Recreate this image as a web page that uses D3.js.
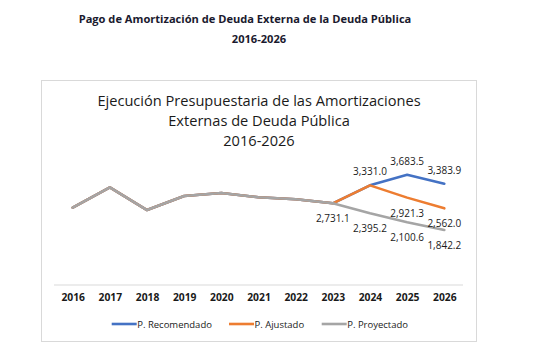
<!DOCTYPE html>
<html>
<head>
<meta charset="utf-8">
<script src="https://cdn.jsdelivr.net/npm/d3@7"></script>
<style>
  body { margin: 0; background: #fff; }
  text { font-family: "Open Sans", "Noto Sans", sans-serif; }
</style>
</head>
<body>
<div id="chart"></div>
<script>
// years on the x axis
const years = ["2016", "2017", "2018", "2019", "2020", "2021", "2022", "2023", "2024", "2025", "2026"];

// historical execution, shared by all three series up to 2023
const historico = [2584, 3266, 2507, 2975, 3076, 2932, 2865, 2731.1];

// projections 2024-2026
const recomendado = historico.concat([3331.0, 3683.5, 3383.9]);
const ajustado = historico.concat([3331.0, 2921.3, 2562.0]);
const proyectado = historico.concat([2395.2, 2100.6, 1842.2]);

const seriesNames = ["P. Recomendado", "P. Ajustado", "P. Proyectado"];
const seriesColors = ["#4472C4", "#ED7D31", "#A5A5A5"];

// which points carry a data label, and where it goes (above / below)
const labelIdx = [8, 9, 10];
const labelPos = [["above", "above", "above"], ["above", "below", "below"], ["below", "below", "below"]];

const allSeries = [recomendado, ajustado, proyectado];

const W = 559, H = 362;
const svg = d3.select("#chart").append("svg")
  .attr("width", W)
  .attr("height", H);

// outer heading
svg.append("text")
  .attr("x", 245).attr("y", 23)
  .attr("text-anchor", "middle")
  .attr("font-size", 11.1).attr("font-weight", "bold")
  .attr("fill", "#1a1a2e")
  .text("Pago de Amortización de Deuda Externa de la Deuda Pública");
svg.append("text")
  .attr("x", 259).attr("y", 43)
  .attr("text-anchor", "middle")
  .attr("font-size", 11.1).attr("font-weight", "bold")
  .attr("fill", "#1a1a2e")
  .text("2016-2026");

// chart frame
svg.append("rect")
  .attr("x", 41.5).attr("y", 80.5)
  .attr("width", 435).attr("height", 261)
  .attr("fill", "none")
  .attr("stroke", "#d9d9d9");

// chart title
const titleLines = ["Ejecución Presupuestaria de las Amortizaciones", "Externas de Deuda Pública", "2016-2026"];
svg.selectAll(".title")
  .data(titleLines)
  .enter().append("text")
  .attr("x", 259)
  .attr("y", (d, i) => 106 + i * 20.2)
  .attr("text-anchor", "middle")
  .attr("font-size", 14.6)
  .attr("fill", "#1a1a1a")
  .text(d => d);

// scales
const x = d3.scalePoint()
  .domain(years)
  .range([72.7, 444.3]);

const y = d3.scaleLinear()
  .domain([0, 4000])
  .range([285, 285 - 4000 * 0.02991]);

// baseline
svg.append("line")
  .attr("x1", 54).attr("x2", 463)
  .attr("y1", y(0)).attr("y2", y(0))
  .attr("stroke", "#d9d9d9");

// x axis labels
const xAxis = svg.append("g")
  .attr("transform", `translate(0,${y(0)})`)
  .call(d3.axisBottom(x).tickSize(0).tickPadding(9));
xAxis.select(".domain").remove();
xAxis.selectAll("text")
  .attr("font-size", 10.3)
  .attr("font-weight", "bold")
  .attr("fill", "#1a1a1a")
  .style("font-family", '"Open Sans", "Noto Sans", sans-serif');

const line = d3.line()
  .x((d, i) => x(years[i]))
  .y(d => y(d));

allSeries.forEach((s, k) => {
  svg.append("path")
    .datum(s)
    .attr("fill", "none")
    .attr("stroke", seriesColors[k])
    .attr("stroke-width", 2.6)
    .attr("stroke-linejoin", "round")
    .attr("stroke-linecap", "round")
    .attr("d", line);
});

// data labels
svg.append("text")
  .attr("x", x("2023")).attr("y", y(2731.1) + 19)
  .attr("text-anchor", "middle")
  .attr("font-size", 10).attr("fill", "#1a1a1a")
  .text(d3.format(",.1f")(2731.1));

allSeries.forEach((s, k) => {
  labelIdx.forEach((idx, j) => {
    if (k === 1 && idx === 8) return; // shared with blue
    const above = labelPos[k][j] === "above";
    svg.append("text")
      .attr("x", x(years[idx]))
      .attr("y", y(s[idx]) + (above ? -10 : 19))
      .attr("text-anchor", "middle")
      .attr("font-size", 10).attr("fill", "#1a1a1a")
      .text(d3.format(",.1f")(s[idx]));
  });
});

// legend
const legendX = [111.7, 229, 321.7];
const legend = svg.selectAll(".legend")
  .data(seriesNames)
  .enter().append("g")
  .attr("transform", (d, i) => `translate(${legendX[i]},324)`);
legend.append("line")
  .attr("x1", 0).attr("x2", 25)
  .attr("stroke", (d, i) => seriesColors[i])
  .attr("stroke-width", 2.6);
legend.append("text")
  .attr("x", 25.5).attr("y", 3.5)
  .attr("font-size", 9.5)
  .attr("fill", "#1a1a1a")
  .text(d => d);
</script>
</body>
</html>
